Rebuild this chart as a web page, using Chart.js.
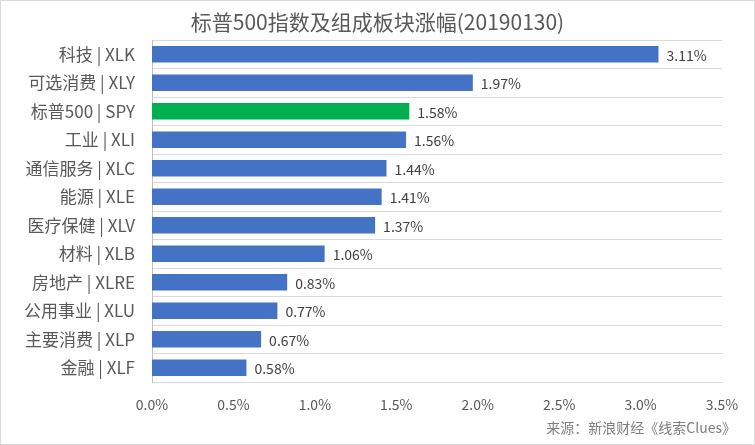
<!DOCTYPE html>
<html>
<head>
<meta charset="utf-8">
<script src="https://cdn.jsdelivr.net/npm/chart.js@4.4.1/dist/chart.umd.min.js"></script>
<style>
  html, body { margin: 0; padding: 0; background: #fff; }
  #wrap { width: 755px; height: 445px; }
</style>
</head>
<body>
<div id="wrap"><canvas id="chart"></canvas></div>
<script>
// Sector labels, top to bottom
const categories = [
    '科技 | XLK', '可选消费 | XLY', '标普500 | SPY', '工业 | XLI',
    '通信服务 | XLC', '能源 | XLE', '医疗保健 | XLV', '材料 | XLB',
    '房地产 | XLRE', '公用事业 | XLU', '主要消费 | XLP', '金融 | XLF'
];

// Daily gain in percent
const gains = [3.11, 1.97, 1.58, 1.56, 1.44, 1.41, 1.37, 1.06, 0.83, 0.77, 0.67, 0.58];

// x axis ticks
const xTicks = [0, 0.5, 1.0, 1.5, 2.0, 2.5, 3.0, 3.5];

const TITLE = '标普500指数及组成板块涨幅(20190130)';
const SOURCE = '来源：新浪财经《线索Clues》';

const FONT = '"Noto Sans CJK SC", "Noto Sans", sans-serif';
const BLUE = '#4472c4';
const GREEN = '#00b050';

// Green bar for the index itself, blue for the sectors
const barColors = categories.map(c => c.indexOf('SPY') >= 0 ? GREEN : BLUE);

// Value labels at the end of each bar
const valueLabels = {
    id: 'valueLabels',
    afterDatasetsDraw(chart) {
        const ctx = chart.ctx;
        const meta = chart.getDatasetMeta(0);
        ctx.save();
        ctx.font = '14px ' + FONT;
        ctx.fillStyle = '#404040';
        ctx.textAlign = 'left';
        ctx.textBaseline = 'middle';
        meta.data.forEach((bar, i) => {
            ctx.fillText(gains[i].toFixed(2) + '%', bar.x + 8, bar.y + 1);
        });
        ctx.restore();
    }
};

// Title, source note and the light frame round the whole chart
const decor = {
    id: 'decor',
    afterDraw(chart) {
        const ctx = chart.ctx;
        ctx.save();
        ctx.textBaseline = 'middle';

        ctx.font = '21px ' + FONT;
        ctx.fillStyle = '#595959';
        ctx.textAlign = 'center';
        ctx.fillText(TITLE, chart.width / 2, 22);

        ctx.font = '14px ' + FONT;
        ctx.fillStyle = '#7f7f7f';
        ctx.textAlign = 'right';
        ctx.fillText(SOURCE, 736, 428);

        ctx.strokeStyle = '#d9d9d9';
        ctx.lineWidth = 1;
        ctx.strokeRect(0.5, 0.5, chart.width - 1, chart.height - 1);
        ctx.restore();
    }
};

new Chart(document.getElementById('chart'), {
    type: 'bar',
    data: {
        labels: categories,
        datasets: [{
            data: gains,
            backgroundColor: barColors,
            barPercentage: 0.58,
            categoryPercentage: 1.0
        }]
    },
    options: {
        indexAxis: 'y',
        responsive: true,
        maintainAspectRatio: false,
        animation: false,
        layout: {
            padding: { left: 0, right: 33, top: 40, bottom: 30 }
        },
        scales: {
            x: {
                min: 0,
                max: 3.5,
                afterBuildTicks: (scale) => {
                    scale.ticks = xTicks.map(v => ({ value: v }));
                },
                afterFit: (scale) => { scale.height = 33; },
                grid: { display: false, drawTicks: false },
                border: { display: false },
                ticks: {
                    padding: 14,
                    color: '#595959',
                    font: { family: FONT, size: 14 },
                    callback: (v) => Number(v).toFixed(1) + '%'
                }
            },
            y: {
                afterFit: (scale) => { scale.width = 152; },
                grid: {
                    color: '#d9d9d9',
                    drawTicks: false
                },
                border: { color: '#bfbfbf' },
                ticks: {
                    padding: 17,
                    color: '#595959',
                    font: { family: FONT, size: 17 }
                }
            }
        },
        plugins: {
            legend: { display: false },
            tooltip: { enabled: false },
            title: { display: false }
        }
    },
    plugins: [valueLabels, decor]
});
</script>
</body>
</html>
